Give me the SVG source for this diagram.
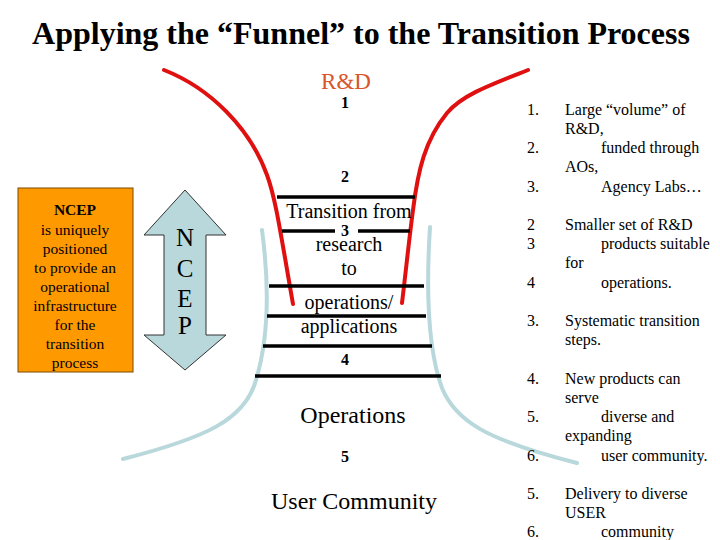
<svg xmlns="http://www.w3.org/2000/svg" width="720" height="540" viewBox="0 0 720 540" font-family="'Liberation Serif', 'Times New Roman', 'DejaVu Serif', serif">
<style>
.t{font-family:"Liberation Serif","Times New Roman","DejaVu Serif",serif;fill:#000}
.num{font-weight:bold;font-size:16px;text-anchor:middle}
.mid{font-size:20px;text-anchor:middle}
.big{font-size:24px;text-anchor:middle}
.side{font-size:15.5px;text-anchor:middle}
.li{font-size:16px}
.bar{stroke:#000;stroke-width:3.5;fill:none}
.red{stroke:#E01010;stroke-width:4;fill:none;stroke-linecap:round}
.blue{stroke:#B8D8DC;stroke-width:4;fill:none;stroke-linecap:round}
</style>
<rect width="720" height="540" fill="#fff"/>
<g id="title">
<text class="t" x="361" y="44" font-size="32" font-weight="bold" text-anchor="middle">Applying the “Funnel” to the Transition Process</text>
</g>

<g id="funnel-connectors">
<path class="blue" d="M262,230 C270,290 268,340 256,380 C245,420 205,438 123,459"/>
<path class="blue" d="M430,227 C426,290 428,350 442,388 C455,420 485,440 577,463"/>
<path class="red" d="M164,70 C210,88 250,128 267,175 C276,200 280,230 293,304"/>
<path class="red" d="M528,70 C490,85 462,95 447,113 C425,140 418,170 413,210 C409,240 406,270 402,303"/>
<line class="bar" x1="277" y1="197" x2="415" y2="197"/>
<line class="bar" x1="282" y1="231" x2="335" y2="231"/>
<line class="bar" x1="358" y1="231" x2="410" y2="231"/>
<line class="bar" x1="269" y1="286" x2="424" y2="286"/>
<line class="bar" x1="267" y1="316" x2="426" y2="316"/>
<line class="bar" x1="263" y1="346" x2="432" y2="346"/>
<line class="bar" x1="255" y1="376" x2="441" y2="376"/>
</g>

<g id="funnel-labels">
<text x="346" y="89" class="t big" font-size="23" style="font-size:23px;fill:#D9542A">R&amp;D</text>
<text x="345" y="108" class="t num">1</text>
<text x="345" y="182" class="t num">2</text>
<text x="349" y="218" class="t mid">Transition from</text>
<text x="345" y="236" class="t num">3</text>
<text x="349" y="251" class="t mid">research</text>
<text x="349" y="275" class="t mid">to</text>
<text x="349" y="309" class="t mid">operations/</text>
<text x="349" y="333" class="t mid">applications</text>
<text x="345" y="365" class="t num">4</text>
</g>

<g id="operations"><text x="353" y="423" class="t big">Operations</text></g>
<g id="step5"><text x="345" y="462" class="t num">5</text></g>
<g id="user-community"><text x="354" y="509" class="t big">User Community</text></g>

<g id="ncep-box">
<rect x="18" y="188" width="115" height="184" fill="#FF9900" stroke="#7a4a00" stroke-width="1"/>
<text x="75" y="215" class="t side" font-weight="bold">NCEP</text>
<text x="75" y="235" class="t side">is uniquely</text>
<text x="75" y="254" class="t side">positioned</text>
<text x="75" y="273" class="t side">to provide an</text>
<text x="75" y="292" class="t side">operational</text>
<text x="75" y="311" class="t side">infrastructure</text>
<text x="75" y="330" class="t side">for the</text>
<text x="75" y="349" class="t side">transition</text>
<text x="75" y="368" class="t side">process</text>
</g>

<g id="ncep-arrow">
<polygon points="185,190 226,235 206,235 206,335 226,335 185,370 144,335 164,335 164,235 144,235" fill="#B8D8DC" stroke="#333" stroke-width="1"/>
<text x="185" y="246" class="t big" style="font-size:25px">N</text>
<text x="185" y="277" class="t big" style="font-size:25px">C</text>
<text x="185" y="307" class="t big" style="font-size:25px">E</text>
<text x="185" y="334" class="t big" style="font-size:25px">P</text>
</g>

<g id="list">
<text x="527" y="115" class="t li">1.</text><text x="565" y="115" class="t li">Large “volume” of</text>
<text x="565" y="134" class="t li">R&amp;D,</text>
<text x="527" y="153" class="t li">2.</text><text x="601" y="153" class="t li">funded through</text>
<text x="565" y="172" class="t li">AOs,</text>
<text x="527" y="192" class="t li">3.</text><text x="601" y="192" class="t li">Agency Labs…</text>
<text x="527" y="230" class="t li">2</text><text x="565" y="230" class="t li">Smaller set of R&amp;D</text>
<text x="527" y="249" class="t li">3</text><text x="601" y="249" class="t li">products suitable</text>
<text x="565" y="268" class="t li">for</text>
<text x="527" y="288" class="t li">4</text><text x="601" y="288" class="t li">operations.</text>
<text x="527" y="326" class="t li">3.</text><text x="565" y="326" class="t li">Systematic transition</text>
<text x="565" y="345" class="t li">steps.</text>
<text x="527" y="384" class="t li">4.</text><text x="565" y="384" class="t li">New products can</text>
<text x="565" y="403" class="t li">serve</text>
<text x="527" y="422" class="t li">5.</text><text x="601" y="422" class="t li">diverse and</text>
<text x="565" y="441" class="t li">expanding</text>
<text x="527" y="461" class="t li">6.</text><text x="601" y="461" class="t li">user community.</text>
<text x="527" y="499" class="t li">5.</text><text x="565" y="499" class="t li">Delivery to diverse</text>
<text x="565" y="518" class="t li">USER</text>
<text x="527" y="537" class="t li">6.</text><text x="601" y="537" class="t li">community</text>
</g>
</svg>
